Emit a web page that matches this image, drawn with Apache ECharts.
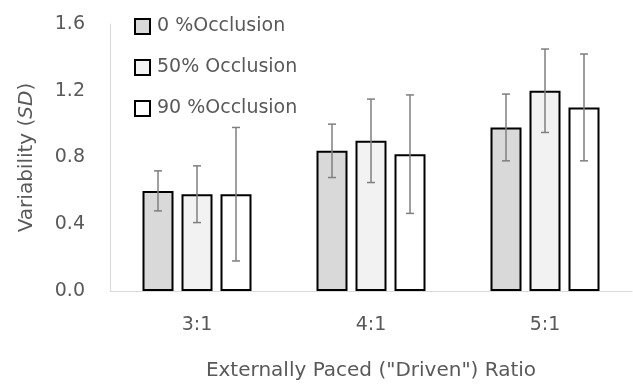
<!DOCTYPE html>
<html><head><meta charset="utf-8">
<script src="https://cdn.jsdelivr.net/npm/echarts@6/dist/echarts.min.js"></script>
<style>html,body{margin:0;padding:0;background:#fff}#c{width:633px;height:386px}</style>
</head><body><div id="c"></div>
<script>
var categories = ['3:1', '4:1', '5:1'];
var seriesNames = ['0 %Occlusion', '50% Occlusion', '90 %Occlusion'];
var values0 = [0.60, 0.84, 0.98];
var values50 = [0.58, 0.90, 1.20];
var values90 = [0.58, 0.82, 1.10];
var sd0 = [0.12, 0.16, 0.20];
var sd50 = [0.17, 0.25, 0.25];
var sd90 = [0.40, 0.355, 0.32];
var yTicks = [0, 0.4, 0.8, 1.2, 1.6];

var FONT = 'DejaVu Sans';
var colors = ['#d9d9d9', '#f2f2f2', '#ffffff'];
var BAR_W = 31, GAP = 8;
var allVals = [values0, values50, values90];
var allSd = [sd0, sd50, sd90];

var series = [];
allVals.forEach(function (v, i) {
  series.push({
    name: seriesNames[i], type: 'bar', data: v, barWidth: BAR_W, barGap: (GAP / BAR_W * 100) + '%',
    itemStyle: { color: colors[i], borderColor: '#000', borderWidth: 2 },
    emphasis: { disabled: true }
  });
});
allVals.forEach(function (v, i) {
  series.push({
    type: 'custom', z: 10, silent: true,
    data: v.map(function (val, j) { return [j, val - allSd[i][j], val + allSd[i][j]]; }),
    renderItem: function (params, api) {
      var off = (i - 1) * (BAR_W + GAP);
      var lo = api.coord([api.value(0), api.value(1)]);
      var hi = api.coord([api.value(0), api.value(2)]);
      var x = lo[0] + off, c = 4;
      var st = { stroke: '#7f7f7f', lineWidth: 1.5 };
      return { type: 'group', children: [
        { type: 'line', shape: { x1: x, y1: lo[1], x2: x, y2: hi[1] }, style: st },
        { type: 'line', shape: { x1: x - c, y1: lo[1], x2: x + c, y2: lo[1] }, style: st },
        { type: 'line', shape: { x1: x - c, y1: hi[1], x2: x + c, y2: hi[1] }, style: st }
      ]};
    }
  });
});

var chart = echarts.init(document.getElementById('c'), null, { renderer: 'canvas' });
chart.setOption({
  animation: false,
  textStyle: { fontFamily: FONT },
  grid: { left: 110, right: 1, top: 24, bottom: 92, containLabel: false },
  legend: {
    orient: 'vertical', left: 129, top: 12, itemWidth: 15, itemHeight: 15, itemGap: 22,
    icon: 'rect', data: seriesNames,
    textStyle: { fontFamily: FONT, fontSize: 19, color: '#595959', padding: [0, 0, 0, 2] }
  },
  xAxis: {
    type: 'category', data: categories,
    axisLine: { lineStyle: { color: '#d9d9d9', width: 1 } },
    axisTick: { show: false },
    axisLabel: { color: '#595959', fontSize: 19, margin: 25, fontFamily: FONT },
    name: 'Externally Paced ("Driven") Ratio', nameLocation: 'middle', nameGap: 70,
    nameTextStyle: { color: '#595959', fontSize: 20, fontFamily: FONT }
  },
  yAxis: {
    type: 'value', min: 0, max: 1.6, interval: 0.4,
    axisLine: { show: true, lineStyle: { color: '#d9d9d9', width: 1 } },
    splitLine: { show: false },
    axisLabel: { color: '#595959', fontSize: 19, margin: 25, fontFamily: FONT,
      formatter: function (v) { return v.toFixed(1); } },
    name: '{a|Variability (}{b|SD}{a|)}', nameLocation: 'middle', nameGap: 73, nameRotate: 90,
    nameTextStyle: { rich: {
      a: { color: '#595959', fontSize: 20, fontFamily: FONT },
      b: { color: '#595959', fontSize: 20, fontFamily: FONT, fontStyle: 'italic' }
    } }
  },
  series: series
});
</script></body></html>
